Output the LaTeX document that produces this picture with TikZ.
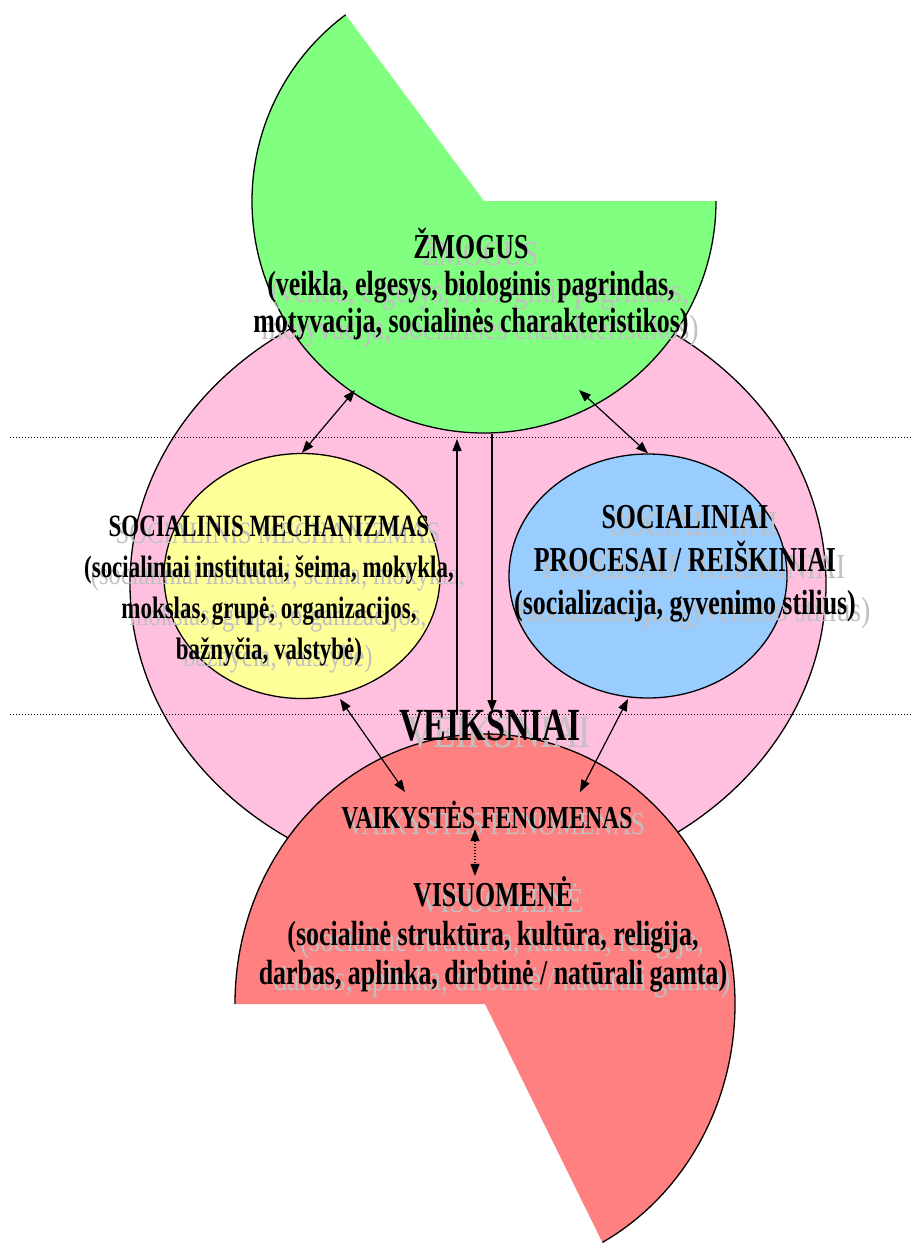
\documentclass[tikz,border=0pt]{standalone}
\usepackage{fontspec}
\setmainfont{Liberation Serif}
\newfontfamily\condfont{Liberation Serif}[FakeStretch=0.74]
\newfontfamily\shadfont{Liberation Serif}[FakeStretch=0.79]
\usetikzlibrary{arrows.meta,shapes.geometric,calc}
\definecolor{pinkc}{HTML}{FFC0E0}
\definecolor{greenc}{HTML}{80FF80}
\definecolor{yellowc}{HTML}{FFFF99}
\definecolor{bluec}{HTML}{99CCFF}
\definecolor{redc}{HTML}{FF8080}
\definecolor{shadc}{HTML}{C0C0C0}
\newcommand\shadowlabel[5]{%
  \node[shd,font={\shadfont\fontsize{#3}{#4}\selectfont}] (#1s) at ($(#2)+(9,7)$) {#5};%
  \node[lbl,font={\condfont\bfseries\fontsize{#3}{#4}\selectfont}] (#1) at (#2) {#5};%
}
\begin{document}
\begin{tikzpicture}[x=1pt,y=-1pt,
  outl/.style={draw=black,line width=1.3pt},
  lbl/.style={align=center,inner sep=0pt,text=black},
  shd/.style={align=center,inner sep=0pt,text=shadc},
  guide/.style={draw=black,line width=0.9pt,dash pattern=on 1pt off 2pt},
  link/.style={draw=black,line width=1.2pt},
  both/.style={link,{Triangle[length=12pt,width=9pt]}-{Triangle[length=12pt,width=9pt]}},
  fwd/.style={link,-{Triangle[length=12pt,width=9pt]}}]
\useasboundingbox (0,0) rectangle (912,1253);
% outer pink field
\draw[outl,fill=pinkc] (478,584) ellipse[x radius=348,y radius=303];
% green pie (ZMOGUS)
\coordinate (gc) at (484,201);
\fill[greenc] (gc) -- ++(0:232) arc[start angle=0,end angle=233.4,radius=232] -- cycle;
\draw[outl] (gc) ++(0:232) arc[start angle=0,end angle=233.4,radius=232];
% inner ellipses
\node[ellipse,outl,fill=yellowc,minimum width=276,minimum height=245,inner sep=0pt] (mech) at (302,576) {};
\node[ellipse,outl,fill=bluec,minimum width=278,minimum height=244,inner sep=0pt] (proc) at (648,576) {};
% red pie (VISUOMENE)
\coordinate (rc) at (485,1004);
\fill[redc] (rc) -- ++(-250,0) arc[start angle=180,end angle=422,x radius=250,y radius=270] -- cycle;
\draw[outl] (rc) ++(-250,0) arc[start angle=180,end angle=422,x radius=250,y radius=270];
% dotted guide lines
\coordinate (d1a) at (10,437);
\coordinate (d1b) at (912,437);
\coordinate (d2a) at (10,714);
\coordinate (d2b) at (912,714);
\draw[guide] (d1a) -- (d1b);
\draw[guide] (d2a) -- (d2b);
% texts
\coordinate (tZ) at (471,284);
\shadowlabel{zmog}{tZ}{35}{37}{ŽMOGUS\\(veikla, elgesys, biologinis pagrindas,\\motyvacija, socialinės charakteristikos)}
\coordinate (tM) at (269,591);
\shadowlabel{mechT}{tM}{31}{41}{SOCIALINIS MECHANIZMAS\\(socialiniai institutai, šeima, mokykla,\\mokslas, grupė, organizacijos,\\bažnyčia, valstybė)}
\coordinate (tP) at (685,564);
\shadowlabel{procT}{tP}{35}{43}{SOCIALINIAI\\PROCESAI / REIŠKINIAI\\(socializacija, gyvenimo stilius)}
\coordinate (tV) at (490,726);
\shadowlabel{veik}{tV}{46}{50}{VEIKSNIAI}
\coordinate (tF) at (487,815);
\shadowlabel{fen}{tF}{32}{36}{VAIKYSTĖS FENOMENAS}
\coordinate (tS) at (493,934);
\shadowlabel{visu}{tS}{35}{39}{VISUOMENĖ\\(socialinė struktūra, kultūra, religija,\\darbas, aplinka, dirbtinė / natūrali gamta)}
% connectors
\coordinate (gL) at (355,390);
\coordinate (gR) at (579,390);
\coordinate (mB) at (340,699);
\coordinate (pB) at (628,699);
\coordinate (vL) at (405,792);
\coordinate (vR) at (580,792);
\coordinate (u1) at (457,715);
\coordinate (u2) at (457,439);
\coordinate (w1) at (492,434);
\coordinate (w2) at (492,712);
\coordinate (ax) at (475,0);
\draw[both] (mech.north) -- (gL);
\draw[both] (gR) -- (proc.north);
\draw[both] (mB) -- (vL);
\draw[both] (pB) -- (vR);
\draw[fwd] (u1) -- (u2);
\draw[fwd] (w1) -- (w2);
\draw[both,dash pattern=on 1.5pt off 1.5pt] (fen.south -| ax) -- (visu.north -| ax);
\end{tikzpicture}
\end{document}
